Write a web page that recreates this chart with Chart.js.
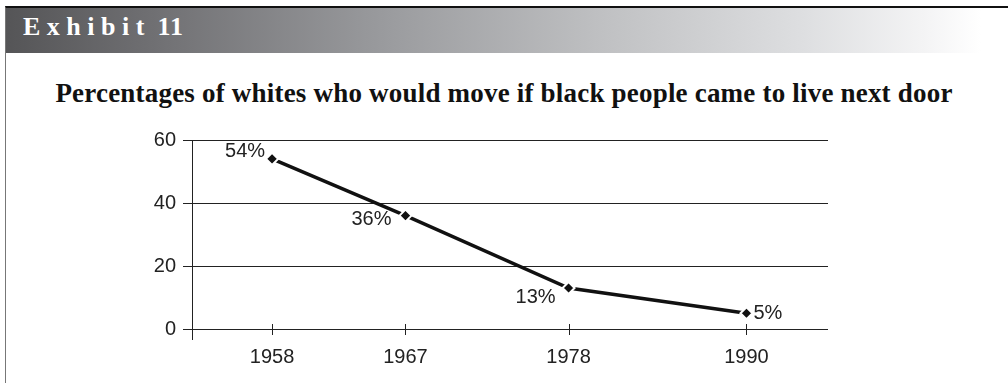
<!DOCTYPE html>
<html>
<head>
<meta charset="utf-8">
<script src="https://cdn.jsdelivr.net/npm/chart.js@4"></script>
<style>
  body { margin: 0; width: 1008px; height: 383px; background: #fff; position: relative; overflow: hidden; }
  .frame { position: absolute; left: 5px; top: 6px; right: 0; bottom: 0; border-left: 1px solid #777; border-top: 2px solid #111; }
  .band {
    position: absolute; left: 6px; top: 8px; right: 0; height: 45px;
    background: linear-gradient(to right, #555557 0px, #707073 150px, #9a9b9e 380px, #c0c1c3 600px, #dedfe1 800px, #f4f4f5 920px, #fff 975px);
  }
  .exhibit { position: absolute; left: 23px; top: 12px; font: bold 26px "Liberation Serif", serif; color: #fff; white-space: nowrap; }
  .exhibit .w { letter-spacing: 6.5px; }
  .exhibit .n { letter-spacing: 1px; }
  .title { position: absolute; left: 0; width: 1008px; top: 78px; text-align: center; font: bold 27px "Liberation Serif", serif; letter-spacing: 0.2px; color: #111; white-space: nowrap; }
  .wrap { position: absolute; left: 0; top: 120px; width: 1008px; height: 263px; }
</style>
</head>
<body>
<div class="frame"></div>
<div class="band"></div>
<div class="exhibit"><span class="w">Exhibit</span> <span class="n">11</span></div>
<div class="title">Percentages of whites who would move if black people came to live next door</div>
<div class="wrap"><canvas id="myChart" width="1008" height="263"></canvas></div>
<script>
const years = [1958, 1967, 1978, 1990];
const shares = [54, 36, 13, 5];
const yTicks = [0, 20, 40, 60];

// where each value label sits relative to its point
const labelSpots = [
  { align: "right", dx: -7, dy: -7 },
  { align: "right", dx: -14, dy: 4 },
  { align: "right", dx: -13, dy: 9 },
  { align: "left", dx: 7, dy: 0 }
];

const ink = "#222";
const sans = "'Liberation Sans', Arial, sans-serif";

const axisExtras = {
  id: "axisExtras",
  afterDatasetsDraw(chart) {
    const ctx = chart.ctx;
    const area = chart.chartArea;
    const xs = chart.scales.x;
    ctx.save();
    ctx.strokeStyle = ink;
    ctx.lineWidth = 1;
    ctx.beginPath();
    // y axis runs a little below zero
    ctx.moveTo(area.left + 0.5, area.top);
    ctx.lineTo(area.left + 0.5, area.bottom + 11);
    years.forEach(yr => {
      const px = Math.round(xs.getPixelForValue(yr)) + 0.5;
      ctx.moveTo(px, area.bottom - 5);
      ctx.lineTo(px, area.bottom + 6);
    });
    ctx.stroke();

    // value labels
    ctx.fillStyle = ink;
    ctx.font = "20px " + sans;
    ctx.textBaseline = "middle";
    const pts = chart.getDatasetMeta(0).data;
    pts.forEach((p, i) => {
      const spot = labelSpots[i];
      ctx.textAlign = spot.align;
      ctx.fillText(shares[i] + "%", p.x + spot.dx, p.y + spot.dy);
    });
    ctx.restore();
  }
};

new Chart("myChart", {
  type: "line",
  data: {
    datasets: [{
      data: years.map((yr, i) => ({ x: yr, y: shares[i] })),
      borderColor: "#111",
      borderWidth: 3.5,
      tension: 0,
      fill: false,
      pointStyle: "rectRot",
      pointRadius: 6,
      pointBackgroundColor: "#111",
      pointBorderColor: "#fff",
      pointBorderWidth: 2
    }]
  },
  options: {
    responsive: false,
    animation: false,
    devicePixelRatio: 1,
    layout: { padding: { top: 20, right: 180, bottom: 0, left: 0 } },
    plugins: {
      legend: { display: false },
      tooltip: { enabled: false }
    },
    scales: {
      x: {
        type: "linear",
        min: 1952.6,
        max: 1995.5,
        afterBuildTicks: s => { s.ticks = years.map(v => ({ value: v })); },
        afterFit: s => { s.height = 54; },
        grid: { display: false },
        border: { display: false },
        ticks: {
          padding: 8,
          color: ink,
          font: { family: sans, size: 20 },
          callback: v => String(v)
        }
      },
      y: {
        min: 0,
        max: 60,
        afterBuildTicks: s => { s.ticks = yTicks.map(v => ({ value: v })); },
        afterFit: s => { s.width = 192; },
        grid: { color: ink, lineWidth: 1, tickLength: 9 },
        border: { display: false },
        ticks: {
          padding: 7,
          color: ink,
          font: { family: sans, size: 20 }
        }
      }
    }
  },
  plugins: [axisExtras]
});
</script>
</body>
</html>
